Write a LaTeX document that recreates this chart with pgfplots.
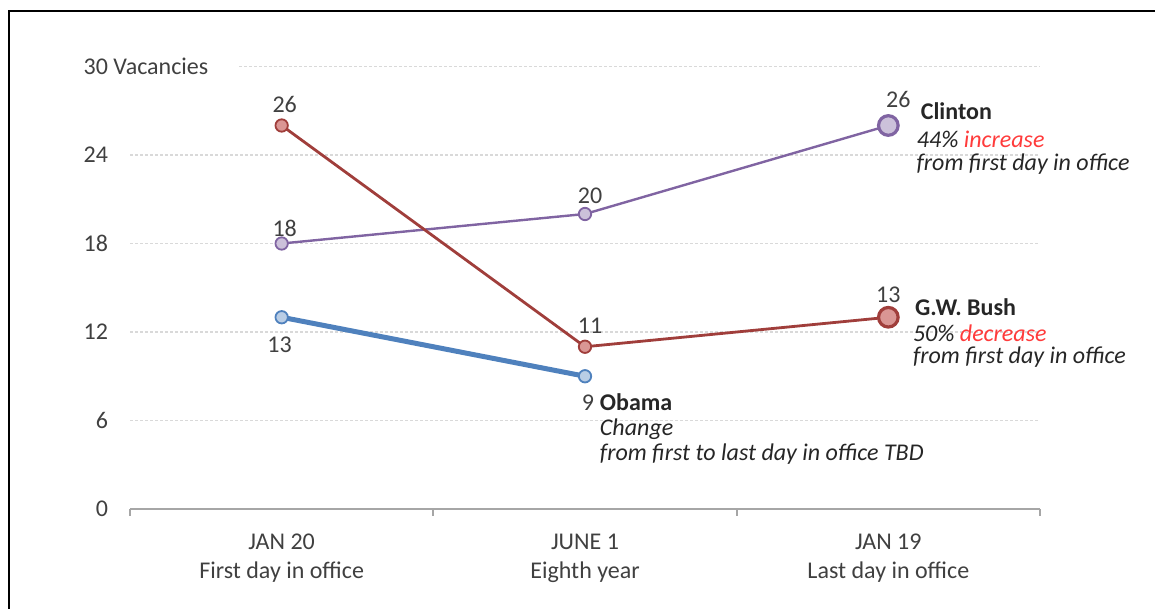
\documentclass[border=0pt]{standalone}
\usepackage{fontspec}
\setmainfont{Carlito}
\usepackage{pgfplots}
\pgfplotsset{compat=1.18}
\definecolor{clin}{HTML}{8064A2}
\definecolor{clinf}{HTML}{CCC1DA}
\definecolor{bush}{HTML}{A03E3B}
\definecolor{bushf}{HTML}{DA9694}
\definecolor{obam}{HTML}{4F81BD}
\definecolor{obamf}{HTML}{B9CDE5}
\definecolor{txt}{HTML}{404040}
\definecolor{dark}{HTML}{262626}
\definecolor{grd}{HTML}{D9D9D9}
\definecolor{axl}{HTML}{A6A6A6}
\definecolor{redt}{HTML}{FF3B3B}
\begin{document}
\begin{tikzpicture}[x=1pt,y=1pt]
\path[use as bounding box] (-65,-50) rectangle (512.5,254.5);
\draw[black, line width=1pt] (-60.5,-50) -- (-60.5,249) -- (512.5,249);
\begin{axis}[
  at={(0,0)}, anchor=south west,
  scale only axis, width=455pt, height=221.25pt,
  xmin=-0.5, xmax=2.5, ymin=0, ymax=30,
  clip=false,
  axis lines*=left,
  x axis line style={draw=axl, line width=1pt, -},
  y axis line style={draw=none},
  ytick style={draw=none},
  xtick={0,1,2},
  xticklabels={{JAN 20\\First day in office},{JUNE 1\\Eighth year},{JAN 19\\Last day in office}},
  major x tick style={draw=none},
  minor xtick={-0.5,0.5,1.5,2.5},
  minor x tick style={draw=axl, line width=1pt},
  minor tick length=3.5pt,
  tick align=outside,
  xticklabel style={align=center, text=txt, font=\fontsize{12}{14.5}\selectfont, inner sep=0pt, anchor=north, yshift=-8pt},
  ytick={6,12,18,24},
  yticklabels={6,12,18,24},
  extra y ticks={0,30},
  extra y tick labels={0,{30\rlap{ Vacancies}}},
  extra y tick style={grid=none},
  yticklabel style={text=txt, font=\fontsize{12}{14}\selectfont, inner sep=0pt, anchor=east, xshift=-6.5pt},
  ymajorgrids,
  major y grid style={draw=grd, line width=0.7pt, dash pattern=on 1.5pt off 1pt},
]
\draw[draw=grd, line width=0.7pt, dash pattern=on 1.5pt off 1pt] (axis cs:-0.14,30) -- (axis cs:2.5,30);
% Clinton
\addplot[color=clin, line width=1.2pt, mark=*, mark indices={1,2}, mark size=3.1pt, mark options={fill=clinf, draw=clin, line width=0.9pt}] coordinates {(0,18) (1,20) (2,26)};
\addplot[only marks, mark=*, mark size=4.9pt, mark options={fill=clinf, draw=clin, line width=1.6pt}] coordinates {(2,26)};
% Bush
\addplot[color=bush, line width=1.4pt, mark=*, mark indices={1,2}, mark size=3.1pt, mark options={fill=bushf, draw=bush, line width=0.9pt}] coordinates {(0,26) (1,11) (2,13)};
\addplot[only marks, mark=*, mark size=4.9pt, mark options={fill=bushf, draw=bush, line width=1.6pt}] coordinates {(2,13)};
% Obama
\addplot[color=obam, line width=2.5pt, mark=*, mark size=3.1pt, mark options={fill=obamf, draw=obam, line width=0.9pt}] coordinates {(0,13) (1,9)};
% data labels
\begin{scope}[every node/.style={inner sep=0pt, anchor=base, text=txt, font=\fontsize{12}{14}\selectfont}]
\node at (axis cs:0.01,26.85) {26};
\node at (axis cs:0.01,18.46) {18};
\node at (axis cs:-0.007,10.58) {13};
\node at (axis cs:1.017,20.68) {20};
\node at (axis cs:1.017,11.93) {11};
\node at (axis cs:2.033,27.19) {26};
\node at (axis cs:2.0,14.03) {13};
\node[anchor=base west] at (axis cs:0.988,6.71) {9};
\end{scope}
% annotations
\begin{scope}[every node/.style={inner sep=0pt, anchor=base west, text=dark, font=\fontsize{12}{14}\selectfont}]
\node[font=\fontsize{12}{14}\selectfont\bfseries] at (axis cs:2.106,26.42) {Clinton};
\node[font=\fontsize{12}{14}\selectfont\itshape] at (axis cs:2.093,24.49) {44\% \textcolor{redt}{increase}};
\node[font=\fontsize{12}{14}\selectfont\itshape] at (axis cs:2.092,22.94) {from first day in office};
\node[font=\fontsize{12}{14}\selectfont\bfseries] at (axis cs:2.087,13.15) {G.W. Bush};
\node[font=\fontsize{12}{14}\selectfont\itshape] at (axis cs:2.080,11.34) {50\% \textcolor{redt}{decrease}};
\node[font=\fontsize{12}{14}\selectfont\itshape] at (axis cs:2.080,9.88) {from first day in office};
\node[font=\fontsize{12}{14}\selectfont\bfseries] at (axis cs:1.048,6.71) {Obama};
\node[font=\fontsize{12}{14}\selectfont\itshape] at (axis cs:1.048,4.95) {Change};
\node[font=\fontsize{12}{14}\selectfont\itshape] at (axis cs:1.048,3.32) {from first to last day in office TBD};
\end{scope}
\end{axis}
\end{tikzpicture}
\end{document}
